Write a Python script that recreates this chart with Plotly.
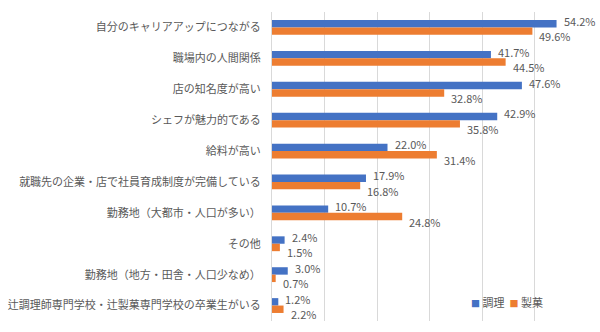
import plotly.graph_objects as go

categories = [
    "自分のキャリアアップにつながる",
    "職場内の人間関係",
    "店の知名度が高い",
    "シェフが魅力的である",
    "給料が高い",
    "就職先の企業・店で社員育成制度が完備している",
    "勤務地（大都市・人口が多い）",
    "その他",
    "勤務地（地方・田舎・人口少なめ）",
    "辻調理師専門学校・辻製菓専門学校の卒業生がいる",
]
chori = [54.2, 41.7, 47.6, 42.9, 22.0, 17.9, 10.7, 2.4, 3.0, 1.2]
seika = [49.6, 44.5, 32.8, 35.8, 31.4, 16.8, 24.8, 1.5, 0.7, 2.2]
series_names = ["調理", "製菓"]
colors = ["#4472C4", "#ED7D31"]

FONT = "Noto Sans CJK JP"
GREY = "#595959"
BARGAP = 0.52

fig = go.Figure()
for name, vals, col in zip(series_names, [chori, seika], colors):
    fig.add_trace(go.Bar(
        y=categories, x=vals, name=name, orientation="h",
        marker=dict(color=col, line=dict(width=0)),
        hoverinfo="skip", showlegend=False,
    ))

# data labels
w = (1 - BARGAP) / 2
anns = []
for k, (vals, yshift) in enumerate([(chori, 3), (seika, -5)]):
    off = -w / 2 if k == 0 else w / 2
    for i, v in enumerate(vals):
        anns.append(dict(
            x=v, y=i + off, xref="x", yref="y", text=f"{v:.1f}%",
            showarrow=False, xanchor="left", yanchor="middle",
            xshift=5, yshift=yshift,
            font=dict(family=FONT, size=11, color=GREY),
        ))

# legend (compact, as in the reference)
legend_text = "&nbsp;&nbsp;".join(
    f"<span style='color:{c};font-size:9px'>■</span>&nbsp;{n}"
    for n, c in zip(series_names, colors)
)
anns.append(dict(
    x=0.625, y=0.062, xref="paper", yref="paper", text=legend_text,
    showarrow=False, xanchor="left", yanchor="middle",
    font=dict(family=FONT, size=11, color=GREY),
))

fig.update_layout(
    width=600, height=332,
    margin=dict(l=272, r=13, t=12, b=11),
    paper_bgcolor="white", plot_bgcolor="white",
    barmode="group", bargap=BARGAP, bargroupgap=0,
    font=dict(family=FONT, size=11, color=GREY),
    showlegend=False,
    annotations=anns,
)
fig.update_xaxes(
    range=[0, 60], dtick=10, showticklabels=False,
    showgrid=True, gridcolor="#d9d9d9", gridwidth=1,
    zeroline=False, showline=False, fixedrange=True,
)
fig.update_yaxes(
    autorange="reversed", showgrid=False, zeroline=False,
    showline=True, linecolor="#d9d9d9", linewidth=1,
    ticks="", ticklabelstandoff=8,
    tickfont=dict(family=FONT, size=11, color=GREY),
    automargin=False,
)

fig.write_html("out.html")
